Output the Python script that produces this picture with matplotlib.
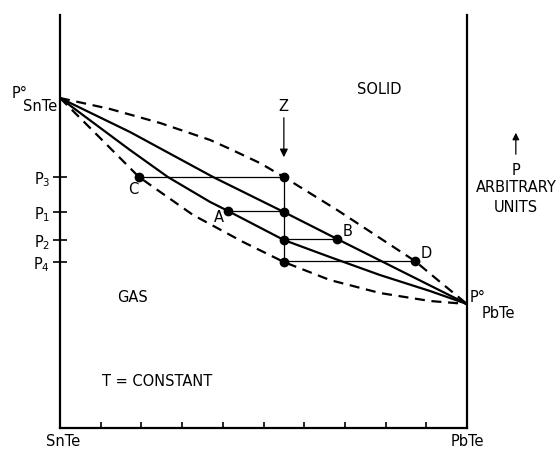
import matplotlib.pyplot as plt

plt.rcParams['font.family'] = ['DejaVu Sans']
FS = 10.5

# composition (0 = SnTe, 1 = PbTe) and pressure (arbitrary units)
upper_dashed_x = [0.0, 0.123, 0.246, 0.369, 0.418, 0.491, 0.55, 0.681, 0.872, 0.934, 1.0]
upper_dashed_y = [330, 319, 305, 288, 279, 265, 251, 218, 167, 146, 124]

upper_solid_x = [0.0, 0.172, 0.376, 0.55, 0.681, 0.789, 1.0]
upper_solid_y = [330, 296, 251, 216, 189, 167, 124]

lower_solid_x = [0.0, 0.172, 0.265, 0.369, 0.413, 0.55, 0.663, 0.786, 0.909, 1.0]
lower_solid_y = [330, 278, 251, 226, 217, 188, 171, 153, 137, 124]

lower_dashed_x = [0.0, 0.079, 0.194, 0.327, 0.450, 0.55, 0.663, 0.786, 0.909, 1.0]
lower_dashed_y = [330, 298, 251, 213, 186, 166, 148, 135, 127, 124]

z_x = 0.55
p_levels = [251, 216, 188, 166]
p_labels = ['P$_3$', 'P$_1$', 'P$_2$', 'P$_4$']

# end points of the tie lines (C, A, B, D)
point_names = ['C', 'A', 'B', 'D']
point_x = [0.194, 0.413, 0.681, 0.872]
point_y = [251, 217, 189, 167]
name_dx = [-0.013, -0.023, 0.025, 0.028]
name_dy = [-12, -6, 8, 8]

fig = plt.figure(figsize=(5.6, 4.49), dpi=100)
ax = fig.add_axes([60 / 560, 21 / 449, 407 / 560, 413 / 449])
ax.set_xlim(0, 1)
ax.set_ylim(0, 413)

dash = (4.5, 3)
ax.plot(upper_dashed_x, upper_dashed_y, color='black', lw=1.6, dashes=dash)
ax.plot(lower_dashed_x, lower_dashed_y, color='black', lw=1.6, dashes=dash)
ax.plot(upper_solid_x, upper_solid_y, color='black', lw=1.6)
ax.plot(lower_solid_x, lower_solid_y, color='black', lw=1.6)

# tie lines and the vertical at Z
for px, py in zip(point_x, point_y):
    ax.plot([px, z_x], [py, py], color='black', lw=0.9)
ax.plot([z_x, z_x], [min(p_levels), max(p_levels)], color='black', lw=0.9)

ax.plot(point_x, point_y, 'o', color='black', ms=6)
ax.plot([z_x] * len(p_levels), p_levels, 'o', color='black', ms=6)

for name, px, py, dx, dy in zip(point_names, point_x, point_y, name_dx, name_dy):
    ax.text(px + dx, py + dy, name, fontsize=FS, ha='center', va='center')

# Z arrow
ax.annotate('', xy=(z_x, 268), xytext=(z_x, 313),
            arrowprops=dict(arrowstyle='-|>', color='black', lw=0.9,
                            mutation_scale=12))
ax.text(z_x, 322, 'Z', fontsize=FS, ha='center', va='center')

ax.text(0.784, 339, 'SOLID', fontsize=FS, ha='center', va='center')
ax.text(0.177, 130, 'GAS', fontsize=FS, ha='center', va='center')
ax.text(0.103, 47, 'T = CONSTANT', fontsize=FS, ha='left', va='center')

# end member vapour pressures
ax.text(-0.098, 335, 'P°', fontsize=FS, ha='center', va='center', clip_on=False)
ax.text(-0.05, 322, 'SnTe', fontsize=FS, ha='center', va='center', clip_on=False)
ax.text(1.027, 130, 'P°', fontsize=FS, ha='center', va='center', clip_on=False)
ax.text(1.078, 115, 'PbTe', fontsize=FS, ha='center', va='center', clip_on=False)

# right hand note
ax.annotate('', xy=(1.12, 298), xytext=(1.12, 271),
            arrowprops=dict(arrowstyle='-|>', color='black', lw=0.9,
                            mutation_scale=10), annotation_clip=False)
ax.text(1.12, 258, 'P', fontsize=FS, ha='center', va='center', clip_on=False)
ax.text(1.12, 240, 'ARBITRARY', fontsize=FS, ha='center', va='center', clip_on=False)
ax.text(1.12, 221, 'UNITS', fontsize=FS, ha='center', va='center', clip_on=False)

ax.spines['top'].set_visible(False)
for s in ['left', 'right', 'bottom']:
    ax.spines[s].set_linewidth(1.6)

ax.set_xticks([i / 10 for i in range(1, 10)])
ax.set_xticklabels([])
ax.tick_params(axis='x', direction='in', length=4, width=1.2)
ax.set_yticks(p_levels)
ax.set_yticklabels(p_labels, fontsize=FS)
ax.tick_params(axis='y', direction='inout', length=10, width=1.2, pad=2)

ax.text(0.007, -14, 'SnTe', fontsize=FS, ha='center', va='center', clip_on=False)
ax.text(1.0, -14, 'PbTe', fontsize=FS, ha='center', va='center', clip_on=False)

fig.savefig('out.png', dpi=100)
